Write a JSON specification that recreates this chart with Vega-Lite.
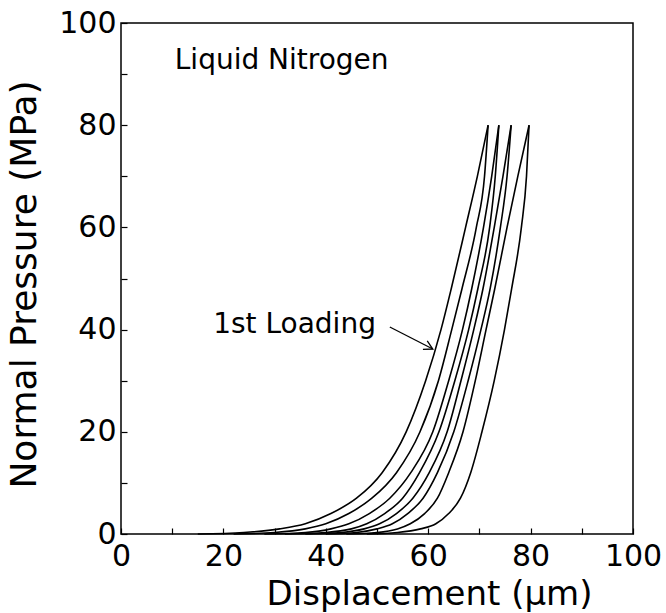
{
  "$schema": "https://vega.github.io/schema/vega-lite/v6.json",
  "width": 512,
  "height": 511,
  "autosize": {"type": "none"},
  "padding": {"left": 121, "top": 23, "right": 33, "bottom": 79},
  "background": "white",
  "config": {
    "view": {"stroke": "black", "strokeWidth": 1.5},
    "font": "DejaVu Sans",
    "axis": {
      "grid": false,
      "domain": false,
      "tickColor": "black",
      "tickSize": -6,
      "tickWidth": 1.2,
      "labelColor": "black",
      "labelFont": "DejaVu Sans",
      "labelFontSize": 30,
      "labelOverlap": false,
      "labelFlush": false,
      "labelBound": false,
      "titleFont": "DejaVu Sans",
      "titleFontWeight": "normal",
      "titleColor": "black"
    }
  },
  "layer": [
    {
      "data": {"values": [
        {"branch": "B1", "disp": 15, "pres": 0}, {"branch": "B1", "disp": 24, "pres": 0.3}, {"branch": "B1", "disp": 31, "pres": 1}, {"branch": "B1", "disp": 36, "pres": 2}, {"branch": "B1", "disp": 41, "pres": 4}, {"branch": "B1", "disp": 46, "pres": 7}, {"branch": "B1", "disp": 51, "pres": 12}, {"branch": "B1", "disp": 55.7, "pres": 20}, {"branch": "B1", "disp": 59.5, "pres": 30}, {"branch": "B1", "disp": 62.5, "pres": 40}, {"branch": "B1", "disp": 64.5, "pres": 48}, {"branch": "B1", "disp": 67.3, "pres": 60}, {"branch": "B1", "disp": 69.6, "pres": 70}, {"branch": "B1", "disp": 71.7, "pres": 80},
        {"branch": "B2", "disp": 22, "pres": 0}, {"branch": "B2", "disp": 30, "pres": 0.3}, {"branch": "B2", "disp": 36, "pres": 1}, {"branch": "B2", "disp": 40, "pres": 2}, {"branch": "B2", "disp": 44.5, "pres": 4}, {"branch": "B2", "disp": 49, "pres": 7}, {"branch": "B2", "disp": 53.8, "pres": 12}, {"branch": "B2", "disp": 58.4, "pres": 20}, {"branch": "B2", "disp": 62.0, "pres": 30}, {"branch": "B2", "disp": 64.6, "pres": 40}, {"branch": "B2", "disp": 66.6, "pres": 48}, {"branch": "B2", "disp": 69.4, "pres": 60}, {"branch": "B2", "disp": 71.0, "pres": 70}, {"branch": "B2", "disp": 71.7, "pres": 80},
        {"branch": "B3", "disp": 28, "pres": 0}, {"branch": "B3", "disp": 36, "pres": 0.3}, {"branch": "B3", "disp": 41, "pres": 1}, {"branch": "B3", "disp": 44.5, "pres": 2}, {"branch": "B3", "disp": 48.5, "pres": 4}, {"branch": "B3", "disp": 52.5, "pres": 7}, {"branch": "B3", "disp": 56.6, "pres": 12}, {"branch": "B3", "disp": 60.9, "pres": 20}, {"branch": "B3", "disp": 64.0, "pres": 30}, {"branch": "B3", "disp": 66.7, "pres": 40}, {"branch": "B3", "disp": 68.5, "pres": 48}, {"branch": "B3", "disp": 70.8, "pres": 60}, {"branch": "B3", "disp": 72.4, "pres": 70}, {"branch": "B3", "disp": 73.8, "pres": 80},
        {"branch": "B4", "disp": 32, "pres": 0}, {"branch": "B4", "disp": 40, "pres": 0.3}, {"branch": "B4", "disp": 45, "pres": 1}, {"branch": "B4", "disp": 48, "pres": 2}, {"branch": "B4", "disp": 51.5, "pres": 4}, {"branch": "B4", "disp": 55, "pres": 7}, {"branch": "B4", "disp": 58.3, "pres": 12}, {"branch": "B4", "disp": 62.1, "pres": 20}, {"branch": "B4", "disp": 65.2, "pres": 30}, {"branch": "B4", "disp": 67.9, "pres": 40}, {"branch": "B4", "disp": 69.7, "pres": 48}, {"branch": "B4", "disp": 72.0, "pres": 60}, {"branch": "B4", "disp": 73.1, "pres": 70}, {"branch": "B4", "disp": 73.8, "pres": 80},
        {"branch": "B5", "disp": 36, "pres": 0}, {"branch": "B5", "disp": 43, "pres": 0.3}, {"branch": "B5", "disp": 47.5, "pres": 1}, {"branch": "B5", "disp": 50.5, "pres": 2}, {"branch": "B5", "disp": 53.8, "pres": 4}, {"branch": "B5", "disp": 57, "pres": 7}, {"branch": "B5", "disp": 60.2, "pres": 12}, {"branch": "B5", "disp": 63.7, "pres": 20}, {"branch": "B5", "disp": 66.4, "pres": 30}, {"branch": "B5", "disp": 68.9, "pres": 40}, {"branch": "B5", "disp": 70.7, "pres": 48}, {"branch": "B5", "disp": 72.9, "pres": 60}, {"branch": "B5", "disp": 74.6, "pres": 70}, {"branch": "B5", "disp": 76.2, "pres": 80},
        {"branch": "B6", "disp": 40, "pres": 0}, {"branch": "B6", "disp": 46, "pres": 0.3}, {"branch": "B6", "disp": 50, "pres": 1}, {"branch": "B6", "disp": 53, "pres": 2}, {"branch": "B6", "disp": 56, "pres": 4}, {"branch": "B6", "disp": 59, "pres": 7}, {"branch": "B6", "disp": 61.8, "pres": 12}, {"branch": "B6", "disp": 65.0, "pres": 20}, {"branch": "B6", "disp": 67.8, "pres": 30}, {"branch": "B6", "disp": 70.3, "pres": 40}, {"branch": "B6", "disp": 72.1, "pres": 48}, {"branch": "B6", "disp": 74.1, "pres": 60}, {"branch": "B6", "disp": 75.4, "pres": 70}, {"branch": "B6", "disp": 76.2, "pres": 80},
        {"branch": "B7", "disp": 44, "pres": 0}, {"branch": "B7", "disp": 50, "pres": 0.3}, {"branch": "B7", "disp": 54, "pres": 1}, {"branch": "B7", "disp": 56.5, "pres": 2}, {"branch": "B7", "disp": 59.3, "pres": 4}, {"branch": "B7", "disp": 61.8, "pres": 7}, {"branch": "B7", "disp": 64.0, "pres": 12}, {"branch": "B7", "disp": 66.8, "pres": 20}, {"branch": "B7", "disp": 69.2, "pres": 30}, {"branch": "B7", "disp": 71.3, "pres": 40}, {"branch": "B7", "disp": 73.0, "pres": 48}, {"branch": "B7", "disp": 75.4, "pres": 60}, {"branch": "B7", "disp": 77.5, "pres": 70}, {"branch": "B7", "disp": 79.7, "pres": 80},
        {"branch": "B8", "disp": 48, "pres": 0}, {"branch": "B8", "disp": 54, "pres": 0.3}, {"branch": "B8", "disp": 58.5, "pres": 1}, {"branch": "B8", "disp": 61.5, "pres": 2}, {"branch": "B8", "disp": 64.0, "pres": 4}, {"branch": "B8", "disp": 66.3, "pres": 7}, {"branch": "B8", "disp": 68.3, "pres": 12}, {"branch": "B8", "disp": 70.5, "pres": 20}, {"branch": "B8", "disp": 72.9, "pres": 30}, {"branch": "B8", "disp": 74.9, "pres": 40}, {"branch": "B8", "disp": 76.3, "pres": 48}, {"branch": "B8", "disp": 78.2, "pres": 60}, {"branch": "B8", "disp": 79.2, "pres": 70}, {"branch": "B8", "disp": 79.7, "pres": 80}
      ]},
      "mark": {"type": "line", "interpolate": "monotone", "color": "black", "strokeWidth": 1.6},
      "encoding": {
        "x": {
          "field": "disp", "type": "quantitative",
          "scale": {"domain": [0, 100], "nice": false, "zero": false},
          "axis": {
            "title": "Displacement (μm)",
            "titleFontSize": 34,
            "values": [0, 10, 20, 30, 40, 50, 60, 70, 80, 90, 100],
            "labelExpr": "datum.value % 20 === 0 ? datum.label : ''",
            "labelPadding": 13,
            "titlePadding": 6,
            "titleX": 308
          }
        },
        "y": {
          "field": "pres", "type": "quantitative",
          "scale": {"domain": [0, 100], "nice": false},
          "axis": {
            "title": "Normal Pressure (MPa)",
            "titleFontSize": 36,
            "values": [0, 10, 20, 30, 40, 50, 60, 70, 80, 90, 100],
            "labelExpr": "datum.value % 20 === 0 ? datum.label : ''",
            "labelPadding": 11,
            "titlePadding": 15,
            "titleY": 261
          }
        },
        "detail": {"field": "branch", "type": "nominal"}
      }
    },
    {
      "data": {"values": [{"label": "Liquid Nitrogen"}]},
      "mark": {"type": "text", "align": "left", "baseline": "alphabetic", "fontSize": 28, "font": "DejaVu Sans", "color": "black"},
      "encoding": {
        "x": {"datum": 10.5, "type": "quantitative"},
        "y": {"datum": 91, "type": "quantitative"},
        "text": {"field": "label"}
      }
    },
    {
      "data": {"values": [{"label": "1st Loading"}]},
      "mark": {"type": "text", "align": "left", "baseline": "alphabetic", "fontSize": 28, "font": "DejaVu Sans", "color": "black"},
      "encoding": {
        "x": {"datum": 18, "type": "quantitative"},
        "y": {"datum": 39.3, "type": "quantitative"},
        "text": {"field": "label"}
      }
    },
    {
      "data": {"values": [{}]},
      "mark": {"type": "rule", "color": "black", "strokeWidth": 1.3},
      "encoding": {
        "x": {"datum": 52.5, "type": "quantitative"},
        "y": {"datum": 40.5, "type": "quantitative"},
        "x2": {"datum": 60.9},
        "y2": {"datum": 36.2}
      }
    },
    {
      "data": {"values": [{}]},
      "mark": {"type": "point", "shape": "M-1,-0.55L0,0L-1,0.55", "filled": false, "color": "black", "strokeWidth": 1.3, "size": 300, "angle": 27, "opacity": 1},
      "encoding": {
        "x": {"datum": 60.9, "type": "quantitative"},
        "y": {"datum": 36.2, "type": "quantitative"}
      }
    }
  ]
}
